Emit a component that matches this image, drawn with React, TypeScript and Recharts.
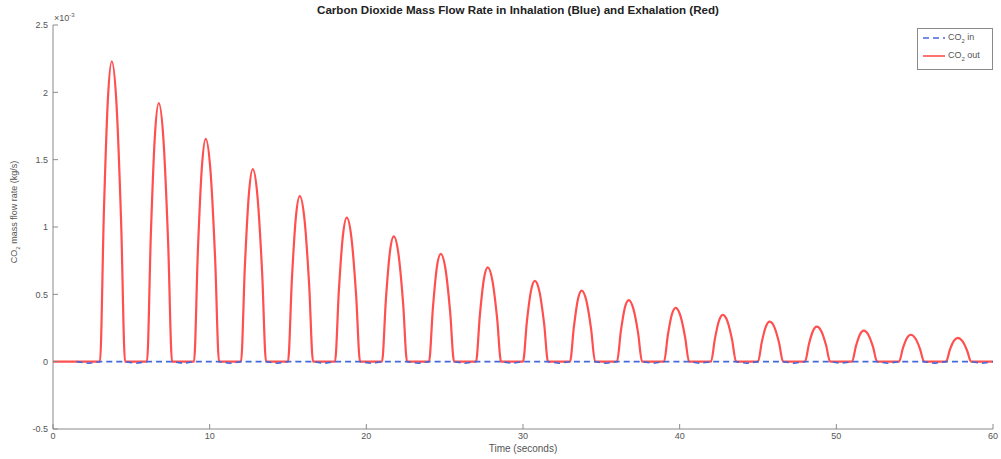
import React from "react";
import { LineChart, Line, XAxis, YAxis } from "recharts";

// CO2 out (exhalation), units of 1e-3 kg/s
const outTime = [
  0,
  3, 3.25, 3.5, 3.75, 4.05, 4.35, 4.6,
  6, 6.25, 6.5, 6.75, 7.05, 7.35, 7.6,
  9, 9.25, 9.5, 9.75, 10.05, 10.35, 10.6,
  12, 12.25, 12.5, 12.75, 13.05, 13.35, 13.6,
  15, 15.25, 15.5, 15.75, 16.05, 16.35, 16.6,
  18, 18.25, 18.5, 18.75, 19.05, 19.35, 19.6,
  21, 21.25, 21.5, 21.75, 22.05, 22.35, 22.6,
  24, 24.25, 24.5, 24.75, 25.05, 25.35, 25.6,
  27, 27.25, 27.5, 27.75, 28.05, 28.35, 28.6,
  30, 30.25, 30.5, 30.75, 31.05, 31.35, 31.6,
  33, 33.25, 33.5, 33.75, 34.05, 34.35, 34.6,
  36, 36.25, 36.5, 36.75, 37.05, 37.35, 37.6,
  39, 39.25, 39.5, 39.75, 40.05, 40.35, 40.6,
  42, 42.25, 42.5, 42.75, 43.05, 43.35, 43.6,
  45, 45.25, 45.5, 45.75, 46.05, 46.35, 46.6,
  48, 48.25, 48.5, 48.75, 49.05, 49.35, 49.6,
  51, 51.25, 51.5, 51.75, 52.05, 52.35, 52.6,
  54, 54.25, 54.5, 54.75, 55.05, 55.35, 55.6,
  57, 57.25, 57.5, 57.75, 58.05, 58.35, 58.6,
  60,
];
const co2Out = [
  0,
  0, 1.12, 1.94, 2.23, 1.92, 1.03, 0,
  0, 0.96, 1.67, 1.92, 1.65, 0.88, 0,
  0, 0.83, 1.44, 1.655, 1.42, 0.76, 0,
  0, 0.715, 1.24, 1.43, 1.23, 0.66, 0,
  0, 0.615, 1.07, 1.23, 1.06, 0.57, 0,
  0, 0.535, 0.93, 1.07, 0.92, 0.49, 0,
  0, 0.465, 0.81, 0.93, 0.8, 0.43, 0,
  0, 0.4, 0.7, 0.8, 0.69, 0.37, 0,
  0, 0.35, 0.61, 0.7, 0.6, 0.32, 0,
  0, 0.3, 0.52, 0.6, 0.52, 0.28, 0,
  0, 0.26, 0.46, 0.527, 0.45, 0.24, 0,
  0, 0.23, 0.4, 0.457, 0.39, 0.21, 0,
  0, 0.2, 0.35, 0.4, 0.34, 0.18, 0,
  0, 0.17, 0.3, 0.347, 0.3, 0.16, 0,
  0, 0.15, 0.26, 0.297, 0.255, 0.137, 0,
  0, 0.13, 0.226, 0.26, 0.224, 0.12, 0,
  0, 0.115, 0.2, 0.23, 0.198, 0.106, 0,
  0, 0.1, 0.174, 0.2, 0.172, 0.092, 0,
  0, 0.089, 0.154, 0.177, 0.152, 0.081, 0,
  0,
];

// CO2 in (inhalation), units of 1e-3 kg/s
const inTime = [
  1.5, 2.3, 3,
  4.6, 5.3, 6,
  7.6, 8.3, 9,
  10.6, 11.3, 12,
  13.6, 14.3, 15,
  16.6, 17.3, 18,
  19.6, 20.3, 21,
  22.6, 23.3, 24,
  25.6, 26.3, 27,
  28.6, 29.3, 30,
  31.6, 32.3, 33,
  34.6, 35.3, 36,
  37.6, 38.3, 39,
  40.6, 41.3, 42,
  43.6, 44.3, 45,
  46.6, 47.3, 48,
  49.6, 50.3, 51,
  52.6, 53.3, 54,
  55.6, 56.3, 57,
  58.6, 59.3, 60,
];
const co2In = [
  0, -0.012, 0,
  0, -0.012, 0,
  0, -0.012, 0,
  0, -0.012, 0,
  0, -0.012, 0,
  0, -0.012, 0,
  0, -0.012, 0,
  0, -0.012, 0,
  0, -0.012, 0,
  0, -0.012, 0,
  0, -0.012, 0,
  0, -0.012, 0,
  0, -0.012, 0,
  0, -0.012, 0,
  0, -0.012, 0,
  0, -0.012, 0,
  0, -0.012, 0,
  0, -0.012, 0,
  0, -0.012, 0,
  0, -0.012, 0,
];

const xTicks = [0, 10, 20, 30, 40, 50, 60];
const yTicks = [-0.5, 0, 0.5, 1, 1.5, 2, 2.5];

const outData = outTime.map((t, i) => ({ t, v: co2Out[i] }));
const inData = inTime.map((t, i) => ({ t, v: co2In[i] }));

const FONT = "'Liberation Sans', Arial, Helvetica, sans-serif";
const AXIS = "#8a8a8a";
const TXT = "#555";
const RED = "#ff4f4f";
const BLUE = "#4468d8";

const tickStyle = { fontSize: 9, fill: TXT, fontFamily: FONT };

export default function App() {
  return (
    <div
      style={{
        position: "absolute",
        left: 0,
        top: 0,
        width: 1001,
        height: 459,
        background: "#fff",
        fontFamily: FONT,
      }}
    >
      <LineChart
        width={1001}
        height={459}
        margin={{ top: 25, right: 8, bottom: 0, left: 0 }}
      >
        <XAxis
          xAxisId={0}
          dataKey="t"
          type="number"
          domain={[0, 60]}
          ticks={xTicks}
          height={30}
          tickSize={-5}
          tickMargin={9}
          stroke={AXIS}
          tick={tickStyle}
          allowDataOverflow
        />
        <XAxis
          xAxisId="top"
          orientation="top"
          type="number"
          domain={[0, 60]}
          ticks={xTicks}
          height={0}
          tickSize={-5}
          tick={false}
          stroke={AXIS}
          allowDataOverflow
        />
        <YAxis
          yAxisId={0}
          type="number"
          domain={[-0.5, 2.5]}
          ticks={yTicks}
          width={53}
          tickSize={-5}
          tickMargin={10}
          stroke={AXIS}
          tick={tickStyle}
          allowDataOverflow
        />
        <YAxis
          yAxisId="right"
          orientation="right"
          type="number"
          domain={[-0.5, 2.5]}
          ticks={yTicks}
          width={0}
          tickSize={-5}
          tick={false}
          stroke={AXIS}
          allowDataOverflow
        />
        <Line
          data={outData}
          dataKey="v"
          type="monotone"
          stroke={RED}
          strokeWidth={2.2}
          dot={false}
          isAnimationActive={false}
        />
        <Line
          data={inData}
          dataKey="v"
          type="linear"
          stroke={BLUE}
          strokeWidth={1.6}
          strokeDasharray="6 4"
          dot={false}
          isAnimationActive={false}
        />
      </LineChart>

      {/* Title */}
      <div
        style={{
          position: "absolute",
          left: 53,
          width: 930,
          top: 3,
          textAlign: "center",
          fontSize: 11.6,
          fontWeight: "bold",
          color: "#222",
          whiteSpace: "nowrap",
        }}
      >
        Carbon Dioxide Mass Flow Rate in Inhalation (Blue) and Exhalation (Red)
      </div>

      {/* exponent */}
      <div
        style={{
          position: "absolute",
          left: 54,
          top: 12,
          fontSize: 9,
          color: TXT,
          whiteSpace: "nowrap",
        }}
      >
        ×10<sup style={{ fontSize: 6, verticalAlign: "4px" }}>-3</sup>
      </div>

      {/* x label */}
      <div
        style={{
          position: "absolute",
          left: 53,
          width: 940,
          top: 443,
          textAlign: "center",
          fontSize: 10,
          color: TXT,
        }}
      >
        Time (seconds)
      </div>

      {/* y label */}
      <div
        style={{
          position: "absolute",
          left: 15,
          top: 212,
          transform: "translate(-50%, -50%) rotate(-90deg)",
          fontSize: 9,
          color: TXT,
          whiteSpace: "nowrap",
        }}
      >
        CO<sub style={{ fontSize: 6 }}>2</sub> mass flow rate (kg/s)
      </div>

      {/* legend */}
      <div
        style={{
          position: "absolute",
          left: 917,
          top: 28,
          width: 74,
          height: 40,
          border: `1px solid ${AXIS}`,
          background: "#fff",
          fontSize: 9,
          color: TXT,
        }}
      >
        <div style={{ position: "absolute", left: 4, top: 3, display: "flex", alignItems: "center" }}>
          <svg width={24} height={10}>
            <line x1={1} y1={5} x2={23} y2={5} stroke={BLUE} strokeWidth={1.6} strokeDasharray="6 4" />
          </svg>
          <span style={{ marginLeft: 2, whiteSpace: "nowrap" }}>
            CO<sub style={{ fontSize: 6 }}>2</sub> in
          </span>
        </div>
        <div style={{ position: "absolute", left: 4, top: 21, display: "flex", alignItems: "center" }}>
          <svg width={24} height={10}>
            <line x1={1} y1={5} x2={23} y2={5} stroke={RED} strokeWidth={1.6} />
          </svg>
          <span style={{ marginLeft: 2, whiteSpace: "nowrap" }}>
            CO<sub style={{ fontSize: 6 }}>2</sub> out
          </span>
        </div>
      </div>
    </div>
  );
}
